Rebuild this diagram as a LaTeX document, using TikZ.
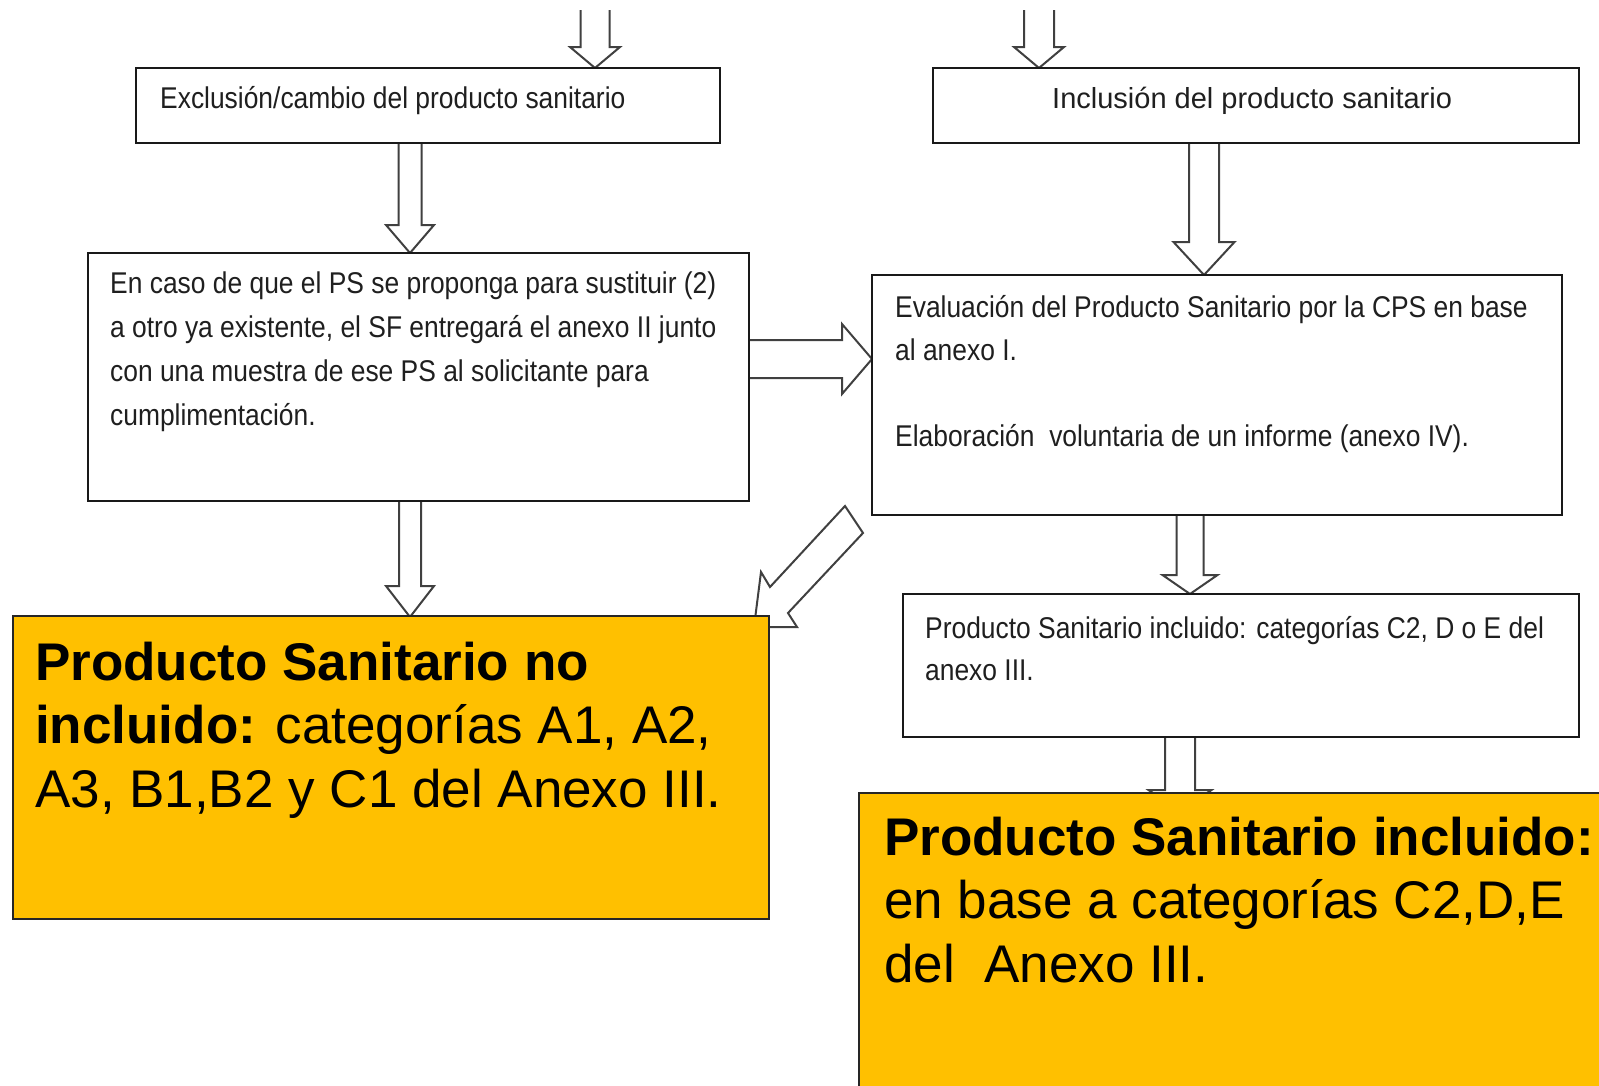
\documentclass[tikz,border=0pt]{standalone}
\usepackage{fontspec}
\setmainfont{Liberation Sans}
\newfontfamily\narrowf[FakeStretch=0.88]{Liberation Sans}
\definecolor{gold}{RGB}{255,192,0}
\tikzset{
  wbox/.style={draw=black!90, line width=2.2pt, fill=white, inner sep=0pt, outer sep=0pt, anchor=north west},
  obox/.style={draw=black!85, line width=1.6pt, fill=gold, inner sep=0pt, outer sep=0pt, anchor=north west},
  arr/.style={draw=black!75, line width=2pt, line join=miter},
  smalltxt/.style={font=\narrowf\fontsize{30}{36}\selectfont, text=black!88, inner sep=0pt, anchor=base west},
  midtxt/.style={font=\fontsize{29}{35}\selectfont, text=black!88, inner sep=0pt, anchor=base west},
  bigtxt/.style={font=\fontsize{53}{63}\selectfont, text=black, inner sep=0pt, anchor=base west}
}
% vertical block arrow: x centre, y top, y tip, shaft half width, head half width, head length
\newcommand\blkdown[6]{%
  \fill[white] (#1-#4,#2) -- (#1-#4,#3-#6) -- (#1-#5,#3-#6) -- (#1,#3) -- (#1+#5,#3-#6) -- (#1+#4,#3-#6) -- (#1+#4,#2) -- cycle;
  \draw[arr] (#1-#4,#2) -- (#1-#4,#3-#6) -- (#1-#5,#3-#6) -- (#1,#3) -- (#1+#5,#3-#6) -- (#1+#4,#3-#6) -- (#1+#4,#2);
}
% horizontal block arrow: y centre, x start, x tip, shaft half, head half, head length
\newcommand\blkright[6]{%
  \fill[white] (#2,#1-#4) -- (#3-#6,#1-#4) -- (#3-#6,#1-#5) -- (#3,#1) -- (#3-#6,#1+#5) -- (#3-#6,#1+#4) -- (#2,#1+#4) -- cycle;
  \draw[arr] (#2,#1-#4) -- (#3-#6,#1-#4) -- (#3-#6,#1-#5) -- (#3,#1) -- (#3-#6,#1+#5) -- (#3-#6,#1+#4) -- (#2,#1+#4);
}
\begin{document}
\begin{tikzpicture}[x=1pt,y=-1pt]
\useasboundingbox[fill=white] (0,0) rectangle (1599,1085);

% arrows (drawn first, boxes cover their ends)
\blkdown{595}{10}{68}{14.5}{25}{21}
\blkdown{1039}{10}{68}{15}{25}{21}
\blkdown{410}{143}{253}{11.5}{24}{28}
\blkdown{1204}{143}{275}{15}{30.5}{33}
\blkdown{410}{501}{617}{11}{24}{31}
\blkdown{1190}{515}{594}{13.5}{27.5}{19}
\blkdown{1180}{737}{812}{15}{31.5}{22}
\blkright{359}{749}{872}{19}{35}{30}
% diagonal block arrow towards the left orange box
\filldraw[arr, fill=white] (845,506) -- (770,587) -- (761,572) -- (754,627) -- (797,627) -- (788,613) -- (863,533) -- cycle;

% white boxes
\node[wbox, minimum width=584pt, minimum height=75pt] (b1) at (136,68) {};
\node[wbox, minimum width=646pt, minimum height=75pt] (b2) at (933,68) {};
\node[wbox, minimum width=661pt, minimum height=248pt] (b3) at (88,253) {};
\node[wbox, minimum width=690pt, minimum height=240pt] (b4) at (872,275) {};
\node[wbox, minimum width=676pt, minimum height=143pt] (b5) at (903,594) {};

% orange boxes
\node[obox, minimum width=756pt, minimum height=303pt] (o1) at (13,616) {};
\node[obox, minimum width=760pt, minimum height=310pt] (o2) at (859,793) {};

% texts
\node[smalltxt] (t1) at (160,108) {Exclusión/cambio del producto sanitario};
\node[midtxt] (t2) at (1052,108) {Inclusión del producto sanitario};

\node[smalltxt] (t3a) at (110,293) {En caso de que el PS se proponga para sustituir (2)};
\node[smalltxt] (t3b) at (110,337) {a otro ya existente, el SF entregará el anexo II junto};
\node[smalltxt] (t3c) at (110,381) {con una muestra de ese PS al solicitante para};
\node[smalltxt] (t3d) at (110,425) {cumplimentación.};

\node[smalltxt] (t4a) at (895,317) {Evaluación del Producto Sanitario por la CPS en base};
\node[smalltxt] (t4b) at (895,360) {al anexo I.};
\node[smalltxt] (t4c) at (895,446) {Elaboración\ \ voluntaria de un informe (anexo IV).};

\node[smalltxt] (t5a) at (925,638) {Producto Sanitario incluido: categorías C2, D o E del};
\node[smalltxt] (t5b) at (925,680) {anexo III.};

\node[bigtxt] (o1a) at (35,680) {\textbf{Producto Sanitario no}};
\node[bigtxt] (o1b) at (35,743) {\textbf{incluido:} categorías A1, A2,};
\node[bigtxt] (o1c) at (35,807) {A3, B1,B2 y C1 del Anexo III.};

\node[bigtxt] (o2a) at (884,855) {\textbf{Producto Sanitario incluido:}};
\node[bigtxt] (o2b) at (884,918) {en base a categorías C2,D,E};
\node[bigtxt] (o2c) at (884,982) {del\ \ Anexo III.};
\end{tikzpicture}
\end{document}
